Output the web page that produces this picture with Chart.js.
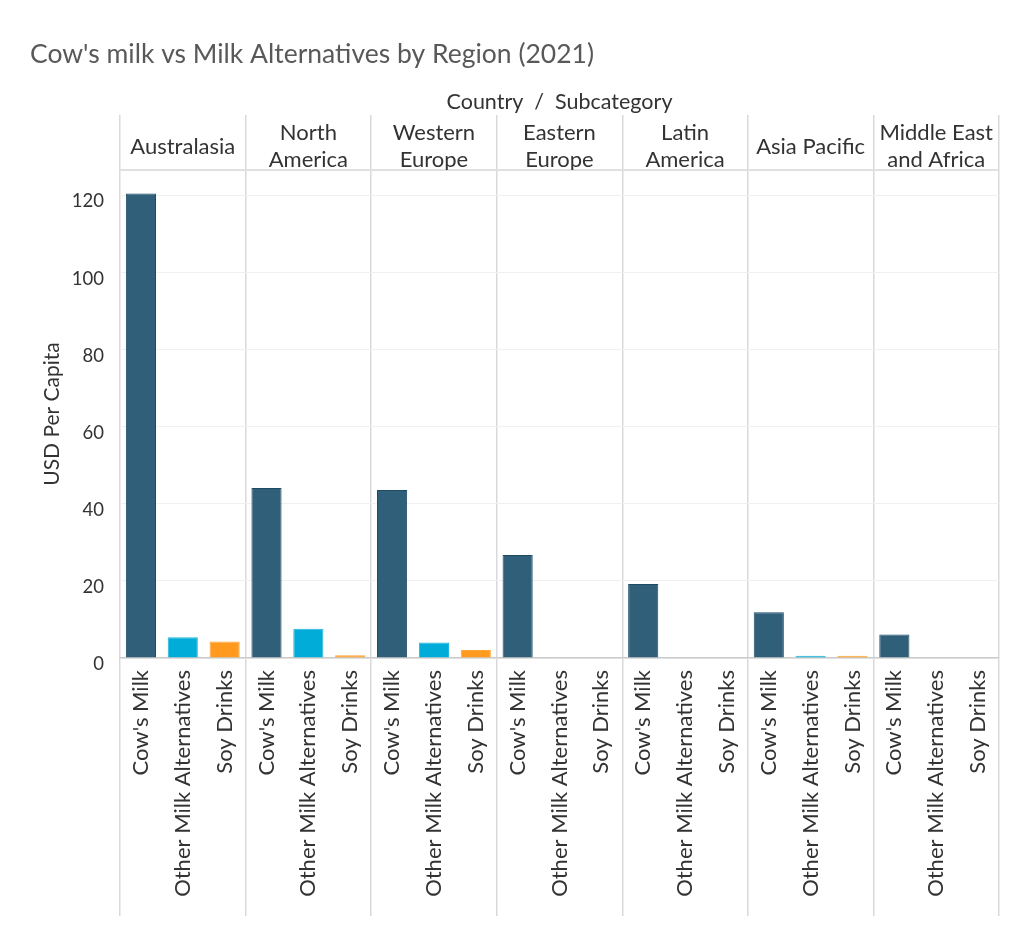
<!DOCTYPE html>
<html>
<head>
<meta charset="utf-8">
<title>Cow's milk vs Milk Alternatives by Region (2021)</title>
<script src="https://cdn.jsdelivr.net/npm/chart.js@4.4.1/dist/chart.umd.min.js"></script>
<style>
  html, body { margin: 0; padding: 0; background: #fff; }
  #wrap { width: 1024px; height: 939px; position: relative; }
</style>
</head>
<body>
<div id="wrap"><canvas id="milkChart"></canvas></div>
<script>
const regions = [['Australasia'], ['North', 'America'], ['Western', 'Europe'], ['Eastern', 'Europe'],
                 ['Latin', 'America'], ['Asia Pacific'], ['Middle East', 'and Africa']];
const subcategories = ["Cow's Milk", 'Other Milk Alternatives', 'Soy Drinks'];
const cowsMilk = [120.5, 44.1, 43.6, 26.7, 19.2, 11.9, 6.1];
const otherAlternatives = [5.4, 7.6, 4.0, null, null, 0.6, null];
const soyDrinks = [4.3, 0.7, 2.1, null, null, 0.6, null];
const yTicks = [0, 20, 40, 60, 80, 100, 120];

const subColors = ['#305f7a', '#02acd8', '#ff9a1e'];
const subBorders = ['#1f4a64', '#1fb6df', '#ffa436'];

// flatten region x subcategory into one category axis
const bySub = [cowsMilk, otherAlternatives, soyDrinks];
const labels = [];
const values = [];
const colors = [];
const borders = [];
regions.forEach((r, ri) => {
    subcategories.forEach((s, si) => {
        labels.push(s);
        values.push(bySub[si][ri]);
        colors.push(subColors[si]);
        borders.push(subBorders[si]);
    });
});

const sepColor = c => (c.index === undefined || c.index % 3 === 0) ? '#d9d9d9' : 'rgba(0,0,0,0)';
const FONT = 'Lato, "Open Sans", sans-serif';

const ctx = document.getElementById('milkChart').getContext('2d');
new Chart(ctx, {
    type: 'bar',
    data: {
        labels: labels,
        datasets: [{
            data: values,
            backgroundColor: colors,
            borderColor: borders,
            borderWidth: 1,
            barPercentage: 0.72,
            categoryPercentage: 1
        }]
    },
    options: {
        responsive: true,
        maintainAspectRatio: false,
        animation: false,
        layout: { padding: { left: 30, right: 25, top: 0, bottom: 0 } },
        plugins: {
            legend: { display: false },
            tooltip: { enabled: false },
            title: {
                display: true,
                text: "Cow's milk vs Milk Alternatives by Region (2021)",
                align: 'start',
                color: '#595959',
                font: { family: FONT, size: 26.5, weight: 'normal' },
                padding: { top: 39, bottom: 3 }
            }
        },
        scales: {
            x: {
                type: 'category',
                position: 'bottom',
                offset: true,
                afterFit: s => { s.height = 281; },
                grid: {
                    offset: true,
                    drawOnChartArea: true,
                    drawTicks: true,
                    tickLength: 258,
                    color: sepColor,
                    lineWidth: 1.5
                },
                border: { display: true, color: '#cccccc', width: 1.5 },
                ticks: {
                    autoSkip: false,
                    minRotation: 90,
                    maxRotation: 90,
                    padding: -246,
                    color: '#333333',
                    font: { family: FONT, size: 22 }
                }
            },
            x2: {
                type: 'category',
                position: 'top',
                labels: labels,
                offset: true,
                afterFit: s => { s.height = 96.2; },
                grid: {
                    offset: true,
                    drawOnChartArea: false,
                    drawTicks: true,
                    tickLength: 55,
                    color: sepColor,
                    lineWidth: 1.5
                },
                border: { display: true, color: '#e0e0e0', width: 2 },
                ticks: {
                    autoSkip: false,
                    minRotation: 0,
                    maxRotation: 0,
                    crossAlign: 'center',
                    padding: -45,
                    color: '#333333',
                    font: { family: FONT, size: 22, lineHeight: 1.23 },
                    callback: (v, i) => i % 3 === 1 ? regions[Math.floor(i / 3)] : ''
                },
                title: {
                    display: true,
                    text: 'Country  /  Subcategory',
                    color: '#333333',
                    font: { family: FONT, size: 21.5 },
                    padding: { top: 15, bottom: 0 }
                }
            },
            y: {
                min: 0,
                max: 126.6,
                afterFit: s => { s.width = 90; },
                afterBuildTicks: s => { s.ticks = yTicks.map(v => ({ value: v })); },
                grid: { color: '#f0f0f0', lineWidth: 1, drawTicks: false },
                border: { display: false },
                ticks: {
                    padding: 16,
                    labelOffset: 6,
                    color: '#333333',
                    font: { family: FONT, size: 18.5 }
                },
                title: {
                    display: true,
                    text: 'USD Per Capita',
                    color: '#333333',
                    font: { family: FONT, size: 21 },
                    padding: { top: 10, bottom: 0 }
                }
            }
        }
    }
});
</script>
</body>
</html>
